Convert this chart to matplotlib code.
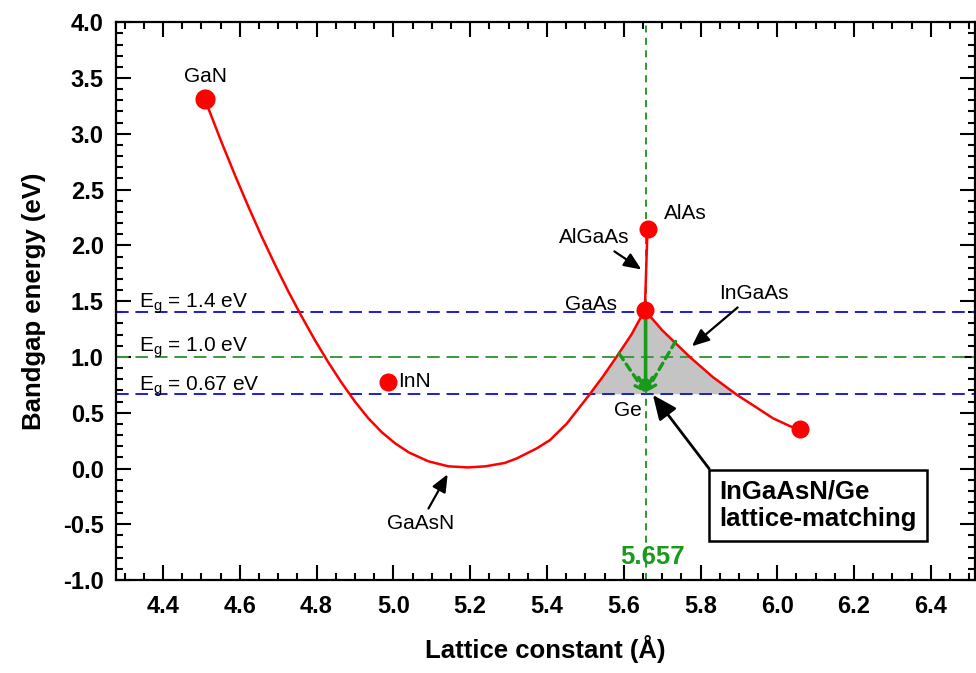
import numpy as np
import matplotlib.pyplot as plt
from matplotlib.ticker import MultipleLocator

plt.rcParams['font.family'] = ['Liberation Sans', 'DejaVu Sans']

# binary end points (lattice constant A, bandgap eV)
names = ['GaN', 'InN', 'GaAs', 'AlAs', 'InAs']
lat = [4.509, 4.985, 5.655, 5.662, 6.058]
eg = [3.31, 0.78, 1.42, 2.15, 0.35]
msize = [14.5, 13, 13, 13, 13]

# GaAsN bowing curve
gaasn_x = [4.509, 4.518, 4.553, 4.588, 4.622, 4.657, 4.692, 4.726, 4.760, 4.795,
           4.830, 4.865, 4.900, 4.935, 4.970, 5.005, 5.040, 5.091, 5.143, 5.195,
           5.240, 5.290, 5.321, 5.373, 5.408, 5.451, 5.508, 5.547, 5.581, 5.620, 5.655]
gaasn_y = [3.31, 3.23, 2.92, 2.625, 2.35, 2.08, 1.825, 1.59, 1.37, 1.155,
           0.955, 0.77, 0.60, 0.45, 0.325, 0.225, 0.145, 0.065, 0.02, 0.01,
           0.02, 0.05, 0.09, 0.18, 0.255, 0.40, 0.65, 0.83, 1.00, 1.20, 1.42]

# InGaAs curve
ingaas_x = [5.655, 5.700, 5.772, 5.832, 5.895, 5.940, 5.989, 6.033, 6.058]
ingaas_y = [1.42, 1.24, 1.00, 0.82, 0.66, 0.56, 0.45, 0.38, 0.35]

# AlGaAs line
algaas_x = [5.655, 5.662]
algaas_y = [1.42, 2.15]

eg_lines = [1.4, 1.0, 0.67]
eg_cols = ['#1c1cd6', '#3c9a3c', '#1c1cd6']
eg_text = ['E$_\\mathregular{g}$ = 1.4 eV', 'E$_\\mathregular{g}$ = 1.0 eV', 'E$_\\mathregular{g}$ = 0.67 eV']
a_ge = 5.657
eg_ge = 0.67

fig = plt.figure(figsize=(9.76, 6.73), dpi=100)
ax = fig.add_axes([0.119, 0.138, 0.880, 0.829])

# shaded lattice-matching region (between the two curves, above Eg of Ge)
ax.fill_between([5.507] + gaasn_x[-4:] + ingaas_x[1:5],
                [eg_ge] + gaasn_y[-4:] + ingaas_y[1:5], eg_ge,
                color='#c4c4c4', zorder=1, lw=0)

for yv, c in zip(eg_lines, eg_cols):
    ax.axhline(yv, color=c, ls=(0, (6.5, 3.5)), lw=1.4, zorder=2)
ax.axvline(a_ge, color='#2a9a2a', ls=(0, (3.6, 2.8)), lw=1.4, zorder=2)

ax.plot(gaasn_x, gaasn_y, color='red', lw=1.8, zorder=3)
ax.plot(ingaas_x, ingaas_y, color='red', lw=1.8, zorder=3)
ax.plot(algaas_x, algaas_y, color='red', lw=1.8, zorder=3)
for x, y, m in zip(lat, eg, msize):
    ax.plot(x, y, 'o', color='red', ms=m, mec='none', zorder=5)

# green arrows toward Ge
ax.annotate('', xy=(a_ge, eg_ge), xytext=(a_ge, 1.40),
            arrowprops=dict(arrowstyle='->,head_width=0.5,head_length=0.9',
                            color='#1a9a1a', lw=2.6, shrinkA=0, shrinkB=0), zorder=4)
for sx, sy in [(5.588, 1.03), (5.735, 1.14)]:
    ax.annotate('', xy=(a_ge, eg_ge + 0.01), xytext=(sx, sy),
                arrowprops=dict(arrowstyle='->,head_width=0.35,head_length=0.6',
                                color='#1a9a1a', lw=2.4, ls=(0, (2.2, 1.6)),
                                shrinkA=0, shrinkB=0), zorder=4)

fs = 15
ax.text(4.51, 3.51, 'GaN', fontsize=fs, ha='center', va='center')
ax.text(5.012, 0.78, 'InN', fontsize=fs, ha='left', va='center')
ax.text(5.705, 2.29, 'AlAs', fontsize=fs, ha='left', va='center')
ax.text(5.583, 1.47, 'GaAs', fontsize=fs, ha='right', va='center')
ax.text(5.61, 0.52, 'Ge', fontsize=fs, ha='center', va='center')
ax.text(4.338, 1.48, eg_text[0], fontsize=fs, ha='left', va='center')
ax.text(4.338, 1.08, eg_text[1], fontsize=fs, ha='left', va='center')
ax.text(4.338, 0.73, eg_text[2], fontsize=fs, ha='left', va='center')

arrow = dict(arrowstyle='-|>,head_width=0.3,head_length=0.7', color='black', lw=1.6)
ax.annotate('GaAsN', xy=(5.145, -0.03), xytext=(5.07, -0.49), fontsize=fs,
            ha='center', va='center', arrowprops=arrow)
ax.annotate('AlGaAs', xy=(5.652, 1.77), xytext=(5.522, 2.07), fontsize=fs,
            ha='center', va='center', arrowprops=arrow)
ax.annotate('InGaAs', xy=(5.772, 1.08), xytext=(5.94, 1.57), fontsize=fs,
            ha='center', va='center', arrowprops=arrow)
ax.annotate('InGaAsN/Ge\nlattice-matching', xy=(5.676, 0.66), xytext=(5.848, -0.33),
            fontsize=18.5, fontweight='bold', ha='left', va='center', linespacing=1.15,
            bbox=dict(boxstyle='square,pad=0.4', fc='white', ec='black', lw=1.8),
            arrowprops=dict(arrowstyle='-|>,head_width=0.35,head_length=0.8',
                            color='black', lw=2.0, shrinkA=0, shrinkB=0,
                            relpos=(-0.02, 1.07)))
ax.text(5.676, -0.79, '5.657', fontsize=18.5, fontweight='bold', color='#1a9a1a',
        ha='center', va='center')

ax.set_xlim(4.278, 6.515)
ax.set_ylim(-1.0, 4.0)
ax.xaxis.set_major_locator(MultipleLocator(0.2))
ax.xaxis.set_minor_locator(MultipleLocator(0.05))
ax.yaxis.set_major_locator(MultipleLocator(0.5))
ax.yaxis.set_minor_locator(MultipleLocator(0.1))
ax.tick_params(which='both', direction='in', top=True, right=True, width=1.5)
ax.tick_params(which='major', length=11, labelsize=17)
ax.tick_params(axis='x', which='major', pad=11)
ax.tick_params(axis='y', which='major', pad=9)
ax.tick_params(which='minor', length=5)
ax.xaxis.set_major_formatter(plt.FormatStrFormatter('%.1f'))
ax.yaxis.set_major_formatter(plt.FormatStrFormatter('%.1f'))
for lab in ax.get_xticklabels() + ax.get_yticklabels():
    lab.set_fontweight('bold')
for sp in ax.spines.values():
    sp.set_linewidth(1.6)

ax.set_xlabel('Lattice constant (Å)', fontsize=18.5, fontweight='bold', labelpad=12)
ax.set_ylabel('Bandgap energy (eV)', fontsize=18.5, fontweight='bold', labelpad=12)

fig.savefig('out.png', dpi=100)
